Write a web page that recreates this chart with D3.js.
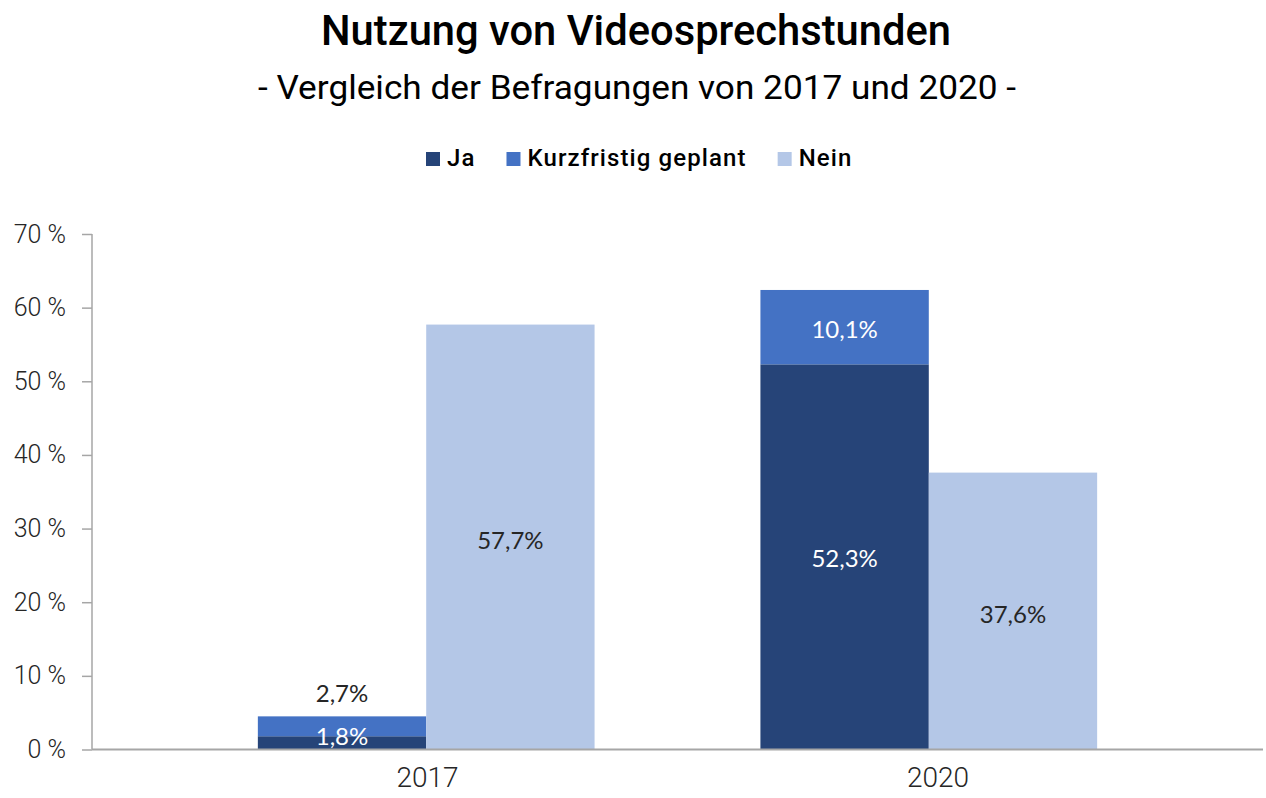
<!DOCTYPE html>
<html>
<head>
<meta charset="utf-8">
<script src="https://cdn.jsdelivr.net/npm/d3@7/dist/d3.min.js"></script>
<style>
  html, body { margin: 0; padding: 0; background: #ffffff; }
  svg { display: block; }
</style>
</head>
<body>
<svg id="chart" width="1266" height="798"></svg>
<script>
// ---- data ----
const years = ["2017", "2020"];
const seriesNames = ["Ja", "Kurzfristig geplant", "Nein"];
const jaValues = [1.8, 52.3];
const kurzValues = [2.7, 10.1];
const neinValues = [57.7, 37.6];
const yTickValues = [0, 10, 20, 30, 40, 50, 60, 70];
const seriesColors = ["#264478", "#4472C4", "#B4C7E7"];
const titleText = "Nutzung von Videosprechstunden";
const subtitleText = "- Vergleich der Befragungen von 2017 und 2020 -";

// ---- layout ----
const plot = { left: 92, right: 1263, top: 234, bottom: 749.5 };
const svg = d3.select("#chart");
const fmt = v => String(v.toFixed(1)).replace(".", ",") + "%";

// Title
svg.append("text")
  .attr("x", 636).attr("y", 45)
  .attr("text-anchor", "middle")
  .attr("font-family", "Roboto, sans-serif")
  .attr("font-weight", 500)
  .attr("font-size", 42)
  .attr("fill", "#000")
  .attr("textLength", 630).attr("lengthAdjust", "spacingAndGlyphs")
  .text(titleText);

svg.append("text")
  .attr("x", 637).attr("y", 99)
  .attr("text-anchor", "middle")
  .attr("font-family", "Roboto, sans-serif")
  .attr("font-weight", 400)
  .attr("font-size", 34)
  .attr("fill", "#000")
  .attr("textLength", 758).attr("lengthAdjust", "spacingAndGlyphs")
  .text(subtitleText);

// Legend
const legend = svg.append("g").attr("transform", "translate(426,0)");
let lx = 0;
seriesNames.forEach((name, i) => {
  const g = legend.append("g").attr("transform", `translate(${lx},0)`);
  g.append("rect").attr("x", 0).attr("y", 152).attr("width", 14).attr("height", 14)
    .attr("fill", seriesColors[i]);
  const t = g.append("text")
    .attr("x", 21).attr("y", 166)
    .attr("font-family", "Roboto, sans-serif")
    .attr("font-weight", 500)
    .attr("font-size", 24)
    .attr("letter-spacing", 1.1)
    .attr("fill", "#000")
    .text(name);
  const w = t.node().getComputedTextLength();
  lx += 21 + w + 31;
});

// Scales
const y = d3.scaleLinear().domain([0, 70]).range([plot.bottom, plot.top]);
const x0 = d3.scaleBand().domain(years).range([plot.left, plot.right])
  .paddingInner(0.33).paddingOuter(0.33);
const x1 = d3.scaleBand().domain(["stack", "nein"]).range([0, x0.bandwidth()]);
const xLabel = d3.scalePoint().domain(years).range([427, 937.5]);

// Stacked data (Ja + Kurzfristig geplant)
const rows = years.map((yr, i) => ({ year: yr, Ja: jaValues[i], Kurz: kurzValues[i], Nein: neinValues[i] }));
const stack = d3.stack().keys(["Ja", "Kurz"])(rows);

const bars = svg.append("g");
stack.forEach((layer, li) => {
  bars.selectAll(null).data(layer).enter().append("rect")
    .attr("x", d => x0(d.data.year) + x1("stack"))
    .attr("width", x1.bandwidth())
    .attr("y", d => y(d[1]))
    .attr("height", d => y(d[0]) - y(d[1]))
    .attr("fill", seriesColors[li]);
});
bars.selectAll(null).data(rows).enter().append("rect")
  .attr("x", d => x0(d.year) + x1("nein"))
  .attr("width", x1.bandwidth())
  .attr("y", d => y(d.Nein))
  .attr("height", d => y(0) - y(d.Nein))
  .attr("fill", seriesColors[2]);

// Data labels
const labelFont = "Lato, 'Open Sans', sans-serif";
const labels = svg.append("g")
  .attr("font-family", labelFont).attr("font-size", 24)
  .attr("text-anchor", "middle").attr("dominant-baseline", "central");
stack.forEach((layer, li) => {
  layer.forEach(d => {
    const h = y(d[0]) - y(d[1]);
    const cx = x0(d.data.year) + x1("stack") + x1.bandwidth() / 2;
    if (li === 1 && h < 30) {
      labels.append("text").attr("x", cx).attr("y", y(d[1]) - 24)
        .attr("fill", "#262626").text(fmt(d[1] - d[0]));
    } else {
      const cy = li === 0 && h < 30 ? y(d[1]) - 1 : (y(d[0]) + y(d[1])) / 2 + 1;
      labels.append("text").attr("x", cx).attr("y", cy)
        .attr("fill", "#ffffff").text(fmt(d[1] - d[0]));
    }
  });
});
rows.forEach(d => {
  labels.append("text")
    .attr("x", x0(d.year) + x1("nein") + x1.bandwidth() / 2)
    .attr("y", (y(0) + y(d.Nein)) / 2 + 2)
    .attr("fill", "#262626").text(fmt(d.Nein));
});

// Axes
const axisColor = "#a6a6a6";
const yAxis = svg.append("g").attr("transform", `translate(${plot.left},0)`)
  .call(d3.axisLeft(y).tickValues(yTickValues).tickSize(10).tickPadding(16)
    .tickFormat(v => v + " %"));
yAxis.select(".domain").attr("stroke", axisColor).attr("stroke-width", 1.5)
  .attr("d", `M0,${plot.top}V${plot.bottom}`);
yAxis.selectAll(".tick line").attr("stroke", axisColor).attr("stroke-width", 1.5);
yAxis.selectAll(".tick text")
  .attr("font-family", "Roboto, sans-serif").attr("font-size", 25)
  .attr("font-weight", 300)
  .attr("fill", "#262626");

svg.append("line")
  .attr("x1", plot.left).attr("x2", plot.right)
  .attr("y1", plot.bottom).attr("y2", plot.bottom)
  .attr("stroke", axisColor).attr("stroke-width", 1.8);

const xAxis = svg.append("g").attr("transform", `translate(0,${plot.bottom})`)
  .call(d3.axisBottom(xLabel).tickSize(0).tickPadding(18));
xAxis.select(".domain").remove();
xAxis.selectAll(".tick text")
  .attr("font-family", "Roboto, sans-serif").attr("font-size", 28)
  .attr("font-weight", 300)
  .attr("fill", "#262626");
</script>
</body>
</html>
